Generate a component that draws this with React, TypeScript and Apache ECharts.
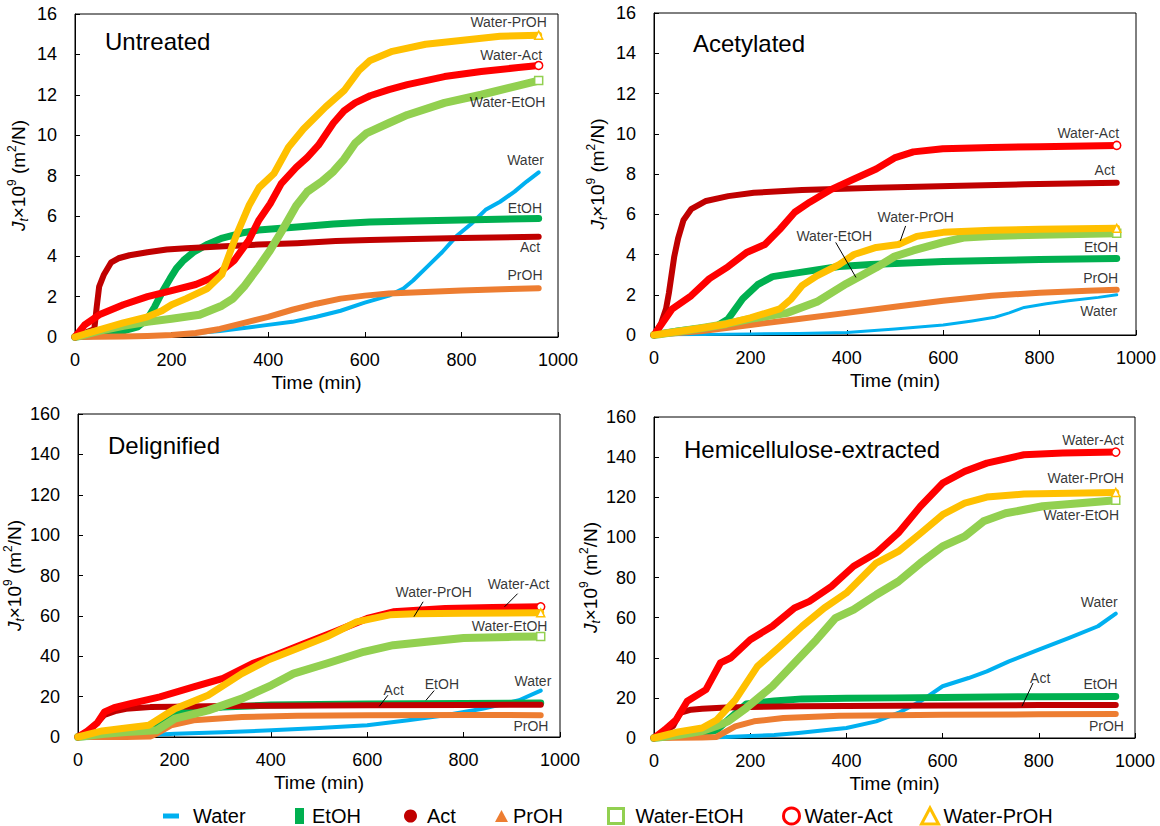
import React, { useEffect, useRef } from "react";
import * as echarts from "echarts";

type P = [number, number];

// ---------- DATA ----------
const seriesNames = ["Water", "EtOH", "Act", "PrOH", "Water-EtOH", "Water-Act", "Water-PrOH"];
const seriesColors = ["#00B0F0", "#00B050", "#C00000", "#ED7D31", "#92D050", "#FF0000", "#FFC000"];
const panelTitles = ["Untreated", "Acetylated", "Delignified", "Hemicellulose-extracted"];
const yMaxes = [16, 16, 160, 160];
const yIntervals = [2, 2, 20, 20];

// Untreated
const utWater: P[] = [[0,0],[100,0.02],[200,0.1],[300,0.3],[350,0.45],[400,0.6],[450,0.75],[500,1.0],[550,1.3],[600,1.7],[650,2.05],[680,2.4],[700,2.8],[730,3.5],[760,4.2],[790,5.0],[820,5.6],[850,6.3],[880,6.7],[910,7.2],[935,7.7],[960,8.15]];
const utEtOH: P[] = [[0,0],[50,0.1],[100,0.3],[130,0.5],[150,0.9],[165,1.5],[180,2.2],[197,2.9],[210,3.4],[225,3.8],[245,4.2],[275,4.6],[305,4.9],[345,5.15],[380,5.3],[460,5.45],[535,5.6],[610,5.7],[700,5.75],[800,5.8],[960,5.87]];
const utAct: P[] = [[0,0],[20,0.2],[40,0.4],[45,1.5],[50,2.5],[60,3.1],[75,3.7],[90,3.9],[113,4.05],[150,4.2],[190,4.33],[230,4.4],[300,4.48],[380,4.58],[460,4.65],[540,4.75],[610,4.8],[700,4.85],[800,4.9],[960,4.97]];
const utPrOH: P[] = [[0,0],[100,0.02],[150,0.05],[200,0.1],[250,0.2],[300,0.4],[350,0.7],[400,1.0],[450,1.35],[500,1.65],[550,1.9],[600,2.05],[650,2.15],[700,2.2],[800,2.3],[900,2.38],[960,2.42]];
const utWEtOH: P[] = [[0,0],[50,0.3],[100,0.55],[150,0.75],[200,0.9],[258,1.1],[304,1.55],[327,1.9],[350,2.5],[381,3.5],[404,4.3],[427,5.2],[458,6.5],[481,7.2],[511,7.7],[535,8.2],[557,8.8],[580,9.6],[604,10.1],[650,10.6],[688,11.0],[765,11.6],[841,12.0],[918,12.45],[960,12.7]];
const utWAct: P[] = [[0,0],[20,0.6],[50,1.1],[100,1.6],[150,2.0],[200,2.3],[250,2.6],[280,2.9],[300,3.2],[330,3.8],[360,4.8],[381,5.8],[404,6.6],[427,7.6],[458,8.4],[481,8.9],[504,9.5],[535,10.6],[557,11.2],[580,11.6],[611,11.95],[650,12.25],[688,12.5],[765,12.9],[841,13.15],[918,13.35],[960,13.45]];
const utWPrOH: P[] = [[0,0],[50,0.35],[100,0.7],[150,1.0],[180,1.3],[200,1.6],[230,1.9],[274,2.4],[304,3.1],[335,5.1],[360,6.5],[381,7.4],[412,8.1],[442,9.4],[473,10.3],[519,11.4],[557,12.2],[588,13.2],[611,13.7],[657,14.15],[726,14.5],[803,14.7],[880,14.9],[960,14.95]];

// Acetylated
const acWater: P[] = [[0,0],[100,0.03],[200,0.05],[300,0.08],[400,0.13],[500,0.3],[600,0.5],[660,0.7],[707,0.88],[737,1.1],[768,1.37],[814,1.55],[860,1.7],[922,1.87],[960,2.0]];
const acEtOH: P[] = [[0,0],[50,0.2],[100,0.35],[130,0.45],[154,0.8],[184,1.8],[215,2.5],[246,2.9],[300,3.1],[384,3.4],[450,3.5],[500,3.55],[600,3.65],[700,3.7],[800,3.75],[960,3.8]];
const acAct: P[] = [[0,0],[15,0.6],[25,1.3],[31,2.1],[42,3.9],[50,4.8],[61,5.7],[77,6.25],[108,6.66],[154,6.9],[207,7.07],[307,7.2],[461,7.32],[614,7.4],[768,7.49],[960,7.57]];
const acPrOH: P[] = [[0,0],[100,0.2],[150,0.35],[200,0.5],[300,0.8],[400,1.1],[500,1.4],[600,1.7],[700,1.95],[800,2.1],[900,2.2],[960,2.25]];
const acWEtOH: P[] = [[0,0],[100,0.35],[150,0.55],[200,0.8],[277,1.1],[338,1.65],[399,2.55],[461,3.35],[499,3.9],[538,4.2],[599,4.6],[645,4.85],[700,4.92],[800,4.98],[960,5.05]];
const acWAct: P[] = [[0,0],[38,1.3],[77,1.95],[115,2.8],[154,3.4],[192,4.1],[230,4.5],[261,5.25],[292,6.1],[323,6.6],[369,7.25],[415,7.75],[461,8.25],[499,8.8],[538,9.1],[599,9.25],[700,9.32],[800,9.36],[960,9.42]];
const acWPrOH: P[] = [[0,0],[100,0.35],[150,0.55],[200,0.85],[261,1.3],[285,1.8],[307,2.45],[338,2.94],[384,3.5],[415,4.0],[461,4.35],[507,4.5],[545,4.9],[600,5.1],[700,5.2],[800,5.25],[960,5.3]];

// Delignified
const dlWater: P[] = [[0,0],[100,0.5],[150,1],[201,1.65],[300,2.3],[401,3.3],[500,4.5],[600,5.8],[685,8.3],[762,10.8],[839,14],[915,18.2],[960,23]];
const dlEtOH: P[] = [[0,0],[50,0.5],[100,1.5],[150,3],[180,8],[200,11],[250,13.5],[300,14.8],[400,15.8],[600,16.3],[800,16.6],[960,16.8]];
const dlAct: P[] = [[0,0],[20,3],[40,7],[55,11],[80,13],[100,14],[150,14.8],[200,15],[300,15.3],[400,15.5],[600,15.7],[800,15.9],[960,16]];
const dlPrOH: P[] = [[0,0],[50,0],[100,0],[150,0.3],[163,1.65],[193,5.8],[240,8.3],[340,9.9],[455,10.5],[600,10.8],[800,10.9],[960,10.8]];
const dlWEtOH: P[] = [[0,0],[50,1.5],[100,2.5],[163,3.3],[201,9.1],[270,13.2],[340,19],[401,25.6],[447,31.4],[516,36.4],[593,42.2],[654,45.5],[723,47.2],[800,49],[900,49.6],[960,49.8]];
const dlWAct: P[] = [[0,0],[20,3],[40,7],[55,12.4],[75,14.5],[109,16.5],[170,19.9],[240,24.8],[301,29],[362,36.4],[409,40.5],[470,46.3],[531,52],[600,58.7],[654,62],[762,63.7],[860,64.2],[960,64.5]];
const dlWPrOH: P[] = [[0,0],[50,3],[100,4.5],[147,5.8],[201,14],[270,20.7],[340,31.4],[393,38],[455,43.8],[516,49.6],[578,57],[647,60.5],[700,61],[800,61.3],[960,61.5]];

// Hemicellulose-extracted
const heWater: P[] = [[0,0],[100,0.3],[150,0.5],[200,1],[250,1.5],[300,2.5],[369,4.2],[400,5],[462,8.3],[508,12.5],[554,18.3],[600,25.8],[654,29.9],[692,33.2],[738,38.2],[800,44],[862,49.8],[923,55.7],[960,62]];
const heEtOH: P[] = [[0,0],[50,1],[100,2.5],[131,4],[154,9],[192,17],[250,18.5],[308,19.5],[400,19.8],[500,20],[600,20.2],[700,20.4],[800,20.6],[960,20.7]];
const heAct: P[] = [[0,0],[20,3],[40,6],[54,12.5],[77,14.1],[100,14.6],[150,15.2],[200,15.5],[300,15.8],[400,16],[600,16.2],[800,16.4],[960,16.5]];
const hePrOH: P[] = [[0,0],[100,0.2],[130,0.5],[138,1.7],[169,5.8],[208,8.3],[269,10],[385,11.1],[500,11.4],[600,11.6],[800,11.8],[960,12]];
const heWEtOH: P[] = [[0,0],[50,1.5],[100,3.5],[130,6],[154,8.3],[192,15],[246,25.8],[292,37.4],[338,49],[377,59.8],[415,64],[462,71.4],[508,78],[554,87.2],[600,95.5],[646,100.5],[685,108],[731,112],[808,115.5],[885,117],[960,118.5]];
const heWAct: P[] = [[0,0],[23,4.2],[46,9.1],[69,18.3],[108,24.1],[138,37.4],[160,40],[200,49],[246,55.7],[292,64.8],[323,68.1],[369,75.6],[415,85.6],[462,92.2],[508,102.2],[554,115.5],[600,127],[646,132.9],[692,137],[769,141.2],[850,142],[960,142.5]];
const heWPrOH: P[] = [[0,0],[50,3],[100,5],[131,9.1],[169,19],[215,35.7],[262,45.7],[308,55.7],[354,64.8],[400,72.3],[462,87.2],[508,93],[554,102],[600,111.3],[646,117.1],[692,120.1],[769,121.6],[960,122.4]];

const panelData: P[][][] = [
  [utWater, utEtOH, utAct, utPrOH, utWEtOH, utWAct, utWPrOH],
  [acWater, acEtOH, acAct, acPrOH, acWEtOH, acWAct, acWPrOH],
  [dlWater, dlEtOH, dlAct, dlPrOH, dlWEtOH, dlWAct, dlWPrOH],
  [heWater, heEtOH, heAct, hePrOH, heWEtOH, heWAct, heWPrOH],
];

// Annotation labels: [text, x, y, align]
type Lab = [string, number, number, string];
const utLabels: Lab[] = [["Water-PrOH",978,15.6,"right"],["Water-Act",968,13.94,"right"],["Water-EtOH",975,11.64,"right"],["Water",972,8.72,"right"],["EtOH",968,6.37,"right"],["Act",964,4.42,"right"],["PrOH",969,3.06,"right"]];
const acLabels: Lab[] = [["Water-Act",966,10.0,"right"],["Act",957,8.18,"right"],["Water-PrOH",544,5.83,"center"],["Water-EtOH",375,4.89,"center"],["EtOH",964,4.35,"right"],["PrOH",964,2.83,"right"],["Water",962,1.16,"right"]];
const dlLabels: Lab[] = [["Water-Act",915,75.6,"center"],["Water-PrOH",739,71.5,"center"],["Water-EtOH",975,54.6,"right"],["Act",656,23.2,"center"],["EtOH",756,26,"center"],["Water",983,27.3,"right"],["PrOH",977,5.0,"right"]];
const heLabels: Lab[] = [["Water-Act",978,148.4,"right"],["Water-PrOH",978,129.3,"right"],["Water-EtOH",968,110.8,"right"],["Water",965,67.6,"right"],["Act",804,29.9,"center"],["EtOH",965,26.6,"right"],["PrOH",978,5.5,"right"]];
const panelLabels = [utLabels, acLabels, dlLabels, heLabels];

// Leader lines
const utLeaders: P[][] = [];
const acLeaders: P[][] = [[[522,5.42],[511,4.68]],[[377,4.6],[419,2.86]]];
const dlLeaders: P[][] = [[[912,71],[885,64.5]],[[716,67],[697,59.6]],[[643,20.7],[625,15.2]],[[739,23],[722,18.2]]];
const heLeaders: P[][] = [[[788,27.4],[765,15.8]]];
const panelLeaders = [utLeaders, acLeaders, dlLeaders, heLeaders];

// ---------- LAYOUT / STYLE ----------
const FONT = "'Liberation Sans', Arial, sans-serif";
const grids = [
  { left: 75, top: 14, width: 483, height: 323 },
  { left: 654, top: 13, width: 482, height: 322 },
  { left: 78, top: 414, width: 482, height: 323 },
  { left: 654, top: 417, width: 481, height: 321 },
];
const titlePos = [
  { left: 105, top: 29 },
  { left: 693, top: 31 },
  { left: 108, top: 433 },
  { left: 684, top: 437 },
];
const yNameGaps = [45, 45, 52, 52];
const lineWidths = [4, 7, 6, 6, 8, 7, 7];
const endSymbols = ["none", "none", "none", "none", "rect", "circle", "triangle"];

const legendItems = [
  { icon: "rect", w: 16, h: 5, left: 163, pad: 9, open: false },
  { icon: "rect", w: 9, h: 16, left: 295, pad: 3, open: false },
  { icon: "circle", w: 13, h: 13, left: 404, pad: 5, open: false },
  { icon: "triangle", w: 13, h: 12, left: 495, pad: 0, open: false },
  { icon: "rect", w: 15, h: 15, left: 607, pad: 7, open: true },
  { icon: "circle", w: 16, h: 16, left: 782, pad: 0, open: true },
  { icon: "triangle", w: 17, h: 16, left: 920, pad: 0, open: true },
];

function buildOption() {
  const series: any[] = [];
  panelData.forEach((panel, pi) => {
    panel.forEach((pts, si) => {
      const color = seriesColors[si];
      const data: any[] = pts.map((p, k) => {
        if (k === pts.length - 1 && endSymbols[si] !== "none") {
          return {
            value: p,
            symbol: endSymbols[si],
            symbolSize: 8,
            itemStyle: { color: "#fff", borderColor: color, borderWidth: 1.5 },
          };
        }
        return p;
      });
      series.push({
        type: "line",
        name: seriesNames[si],
        xAxisIndex: pi,
        yAxisIndex: pi,
        data,
        symbol: "none",
        showSymbol: true,
        color,
        itemStyle: { color },
        lineStyle: { color, width: pi === 1 && si === 0 ? 3 : lineWidths[si], join: "round", cap: "round" },
        silent: true,
        emphasis: { disabled: true },
        z: 2 + si * 0.01,
      });
    });
    panelLeaders[pi].forEach((seg) => {
      series.push({
        type: "line",
        name: "_leader",
        xAxisIndex: pi,
        yAxisIndex: pi,
        data: seg,
        symbol: "none",
        lineStyle: { color: "#000", width: 1 },
        silent: true,
        z: 5,
      });
    });
    series.push({
      type: "scatter",
      name: "_labels",
      xAxisIndex: pi,
      yAxisIndex: pi,
      symbolSize: 1,
      itemStyle: { color: "rgba(0,0,0,0)" },
      silent: true,
      z: 6,
      data: panelLabels[pi].map((l) => ({
        value: [l[1], l[2]],
        label: {
          show: true,
          formatter: l[0],
          position: [0, 0],
          align: l[3],
          verticalAlign: "middle",
          color: "#000",
          fontSize: 14,
          fontFamily: FONT,
        },
      })),
    });
  });

  const yName = "{i|J}{sub|t}{n|×10}{sup|9}{n| (m}{sup|2}{n|/N)}";

  return {
    animation: false,
    textStyle: { fontFamily: FONT },
    title: panelTitles.map((t, i) => ({
      text: t,
      left: titlePos[i].left,
      top: titlePos[i].top,
      padding: 0,
      textStyle: { fontSize: 24, fontWeight: "normal", color: "#000", fontFamily: FONT },
    })),
    grid: grids.map((g) => ({ ...g, show: true, borderColor: "#000", borderWidth: 1, containLabel: false })),
    xAxis: grids.map((_, i) => ({
      type: "value",
      gridIndex: i,
      min: 0,
      max: 1000,
      interval: 200,
      name: "Time (min)",
      nameLocation: "middle",
      nameGap: 36,
      nameTextStyle: { fontSize: 19, color: "#000", fontFamily: FONT },
      axisLine: { show: true, lineStyle: { color: "#000", width: 1 } },
      axisTick: { show: true, inside: true, length: 5, lineStyle: { color: "#000" } },
      axisLabel: { fontSize: 18, color: "#000", margin: 14, fontFamily: FONT, formatter: (v: number) => String(v) },
      splitLine: { show: false },
    })),
    yAxis: grids.map((_, i) => ({
      type: "value",
      gridIndex: i,
      min: 0,
      max: yMaxes[i],
      interval: yIntervals[i],
      name: yName,
      nameLocation: "middle",
      nameGap: yNameGaps[i],
      nameTextStyle: {
        fontSize: 19,
        color: "#000",
        fontFamily: FONT,
        rich: {
          i: { fontSize: 19, fontStyle: "italic", fontFamily: FONT, color: "#000", lineHeight: 24, verticalAlign: "middle" },
          sub: { fontSize: 12, fontStyle: "italic", fontFamily: FONT, color: "#000", lineHeight: 12, verticalAlign: "bottom" },
          n: { fontSize: 19, fontFamily: FONT, color: "#000", lineHeight: 24, verticalAlign: "middle" },
          sup: { fontSize: 12, fontFamily: FONT, color: "#000", lineHeight: 12, verticalAlign: "top" },
        },
      },
      axisLine: { show: true, lineStyle: { color: "#000", width: 1 } },
      axisTick: { show: true, inside: true, length: 5, lineStyle: { color: "#000" } },
      axisLabel: { fontSize: 18, color: "#000", margin: 18, fontFamily: FONT, formatter: (v: number) => String(v) },
      splitLine: { show: false },
    })),
    legend: legendItems.map((it, i) => ({
      data: [
        {
          name: seriesNames[i],
          icon: it.icon,
          itemStyle: it.open
            ? { color: "#fff", borderColor: seriesColors[i], borderWidth: 3 }
            : { color: seriesColors[i], borderWidth: 0 },
        },
      ],
      left: it.left,
      top: 806,
      padding: 0,
      itemWidth: it.w,
      itemHeight: it.h,
      selectedMode: false,
      textStyle: { fontSize: 20, color: "#000", fontFamily: FONT, padding: [0, 0, 0, it.pad] },
    })),
    series,
  };
}

export default function App() {
  const ref = useRef<HTMLDivElement>(null);
  useEffect(() => {
    document.body.style.margin = "0";
    if (!ref.current) return;
    const chart = echarts.init(ref.current, undefined, { renderer: "svg" });
    chart.setOption(buildOption() as any);
    return () => chart.dispose();
  }, []);
  return <div ref={ref} style={{ width: 1160, height: 826, background: "#fff" }} />;
}
